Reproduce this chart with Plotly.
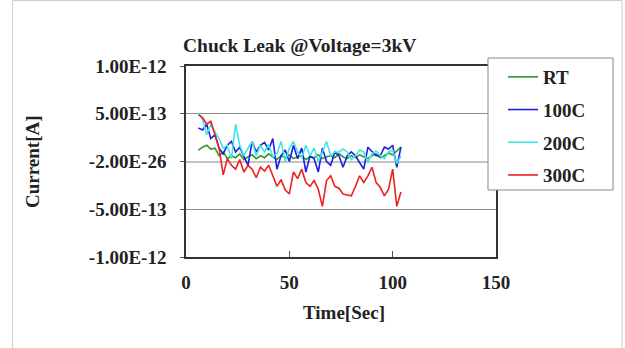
import plotly.graph_objects as go

# ---- data (current in units of 1e-13 A) ----
time_sec = [6, 8, 10, 12, 14, 16, 18, 20, 22, 24, 26, 28, 30, 32, 34, 36, 38, 40, 42, 44,
            46, 48, 50, 52, 54, 56, 58, 60, 62, 64, 66, 68, 70, 72, 74, 76, 78, 80, 82, 84,
            86, 88, 90, 92, 94, 96, 98, 100, 102, 104]

rt = [1.2, 1.5, 1.7, 1.3, 1.4, 0.6, 1.0, 0.3, 0.6, 0.4, 0.8, 0.2, 0.5, 0.7, 0.3, 0.6, 0.4, 0.8, 0.5, 0.2,
      0.6, 0.4, 0.7, 0.3, 0.5, 0.6, 0.2, 0.5, 0.4, 0.7, 0.3, 0.5, 0.6, 0.4, 0.8, 0.5, 0.3, 0.6, 0.4, 0.7,
      0.5, 0.3, 0.6, 0.8, 0.4, 0.6, 0.9, 0.7, 1.1, 1.5]

c100 = [3.5, 3.3, 3.9, 2.4, 2.8, 1.4, 0.8, 1.7, 2.1, 1.0, 1.5, 0.6, -0.4, 2.1, 1.0, 1.7, 2.0, 1.2, 2.4, -0.8,
        0.6, 1.2, 0.0, 1.7, 0.3, 1.4, -1.1, 0.6, 0.3, -1.1, 1.4, 0.0, -0.4, 1.0, 0.6, -0.6, 0.6, 1.0, 0.6, -0.1,
        -0.8, 1.5, 1.0, 0.6, 0.6, 1.5, 1.3, 1.7, -0.6, 1.5]

c200 = [5.1, 4.4, 2.8, 3.9, 3.1, 2.4, 1.4, 1.7, 0.3, 3.9, 1.7, 0.6, 1.4, 2.1, 0.6, 1.7, 1.0, 1.8, 0.5, 0.8,
        2.1, 0.0, 1.4, 2.1, 1.0, 0.4, 1.7, 0.6, 1.4, 0.0, 1.0, 2.1, 0.6, 1.0, 1.0, 1.3, 1.0, 0.2, 0.6, 1.2,
        1.0, -0.1, 0.8, 1.1, 0.6, 0.3, 1.0, 1.2, -0.2, 0.6]

c300 = [4.9, 4.6, 3.9, 4.2, 2.8, 1.4, -1.4, 0.3, -0.4, -0.8, 0.2, -1.1, -0.4, -0.8, -1.7, -0.6, -1.0, -0.4, -1.5, -2.6,
        -1.9, -3.0, -3.4, -1.1, -1.8, -0.8, -2.2, -2.6, -2.0, -2.9, -4.7, -2.0, -1.5, -2.6, -2.8, -3.4, -3.5, -3.6, -2.6, -1.5,
        -2.2, -1.5, -0.6, -2.2, -2.7, -3.6, -2.9, -0.8, -4.7, -3.2]

series_names = ["RT", "100C", "200C", "300C"]
series_colors = ["#2e9a2e", "#1f1fe0", "#3ee6e6", "#ee2020"]
series_values = [rt, c100, c200, c300]
unit = 1e-13

y_tickvals = [-1e-12, -5e-13, 0, 5e-13, 1e-12]
y_ticktext = ["-1.00E-12", "-5.00E-13", "-2.00E-26", "5.00E-13", "1.00E-12"]
x_tickvals = [0, 50, 100, 150]

FONT = "Liberation Serif"

fig = go.Figure()
for i, (name, col, vals) in enumerate(zip(series_names, series_colors, series_values)):
    fig.add_trace(go.Scatter(
        x=time_sec, y=[v * unit for v in vals], mode="lines", name=name,
        line=dict(color=col, width=1.6), legendgroup=f"g{i}",
    ))

# geometry helpers (pixels -> paper)
L, R, T, B = 186, 496, 66, 257
W, H = 625, 348
def px(x):
    return (x - L) / (R - L)
def py(y):
    return (B - y) / (B - T)

fig.update_layout(
    width=W, height=H,
    margin=dict(l=L, r=W - R, t=T, b=H - B),
    paper_bgcolor="white", plot_bgcolor="white",
    font=dict(family=FONT, size=17, color="#222"),
    showlegend=True,
    legend=dict(
        x=px(503), y=py(58), xanchor="left", yanchor="top",
        bgcolor="rgba(0,0,0,0)", borderwidth=0,
        font=dict(family=FONT, size=19, color="#222", weight="bold"),
        tracegroupgap=5, itemwidth=30,
    ),
    xaxis=dict(
        range=[0, 150], tickvals=x_tickvals, ticks="inside", ticklen=6,
        tickcolor="#555", showgrid=False, zeroline=False,
        showline=True, linecolor="#333", linewidth=1.5, mirror=True,
        tickfont=dict(family=FONT, size=19, color="#222", weight="bold"),
        ticklabelstandoff=7,
    ),
    yaxis=dict(
        range=[-1e-12, 1e-12], tickvals=y_tickvals, ticktext=y_ticktext,
        ticks="outside", ticklen=4, tickcolor="#555",
        showgrid=True, gridcolor="#8c8c8c", gridwidth=1,
        zeroline=True, zerolinecolor="#c4c4c4", zerolinewidth=2,
        showline=True, linecolor="#333", linewidth=1.5, mirror=True,
        tickfont=dict(family=FONT, size=19, color="#222", weight="bold"),
        ticklabelstandoff=10,
    ),
    shapes=[
        # outer picture frame
        dict(type="rect", xref="paper", yref="paper",
             x0=px(12.5), x1=px(622), y0=py(355), y1=py(0.5),
             line=dict(color="#cfcfcf", width=1), fillcolor="rgba(0,0,0,0)", layer="below"),
        # legend box
        dict(type="rect", xref="paper", yref="paper",
             x0=px(488), x1=px(613), y0=py(190), y1=py(58),
             line=dict(color="#8a8a8a", width=1), fillcolor="white", layer="above"),
    ],
    annotations=[
        dict(text="<b>Chuck Leak @Voltage=3kV</b>", xref="paper", yref="paper",
             x=px(181), y=py(46), xanchor="left", yanchor="middle", showarrow=False,
             font=dict(family=FONT, size=19.5, color="#222")),
        dict(text="<b>Time[Sec]</b>", xref="paper", yref="paper",
             x=px(344), y=py(312), xanchor="center", yanchor="middle", showarrow=False,
             font=dict(family=FONT, size=19, color="#222")),
        dict(text="<b>Current[A]</b>", xref="paper", yref="paper",
             x=px(32), y=py(162), xanchor="center", yanchor="middle", showarrow=False,
             textangle=-90, font=dict(family=FONT, size=19, color="#222")),
    ],
)

fig.write_html("out.html")
